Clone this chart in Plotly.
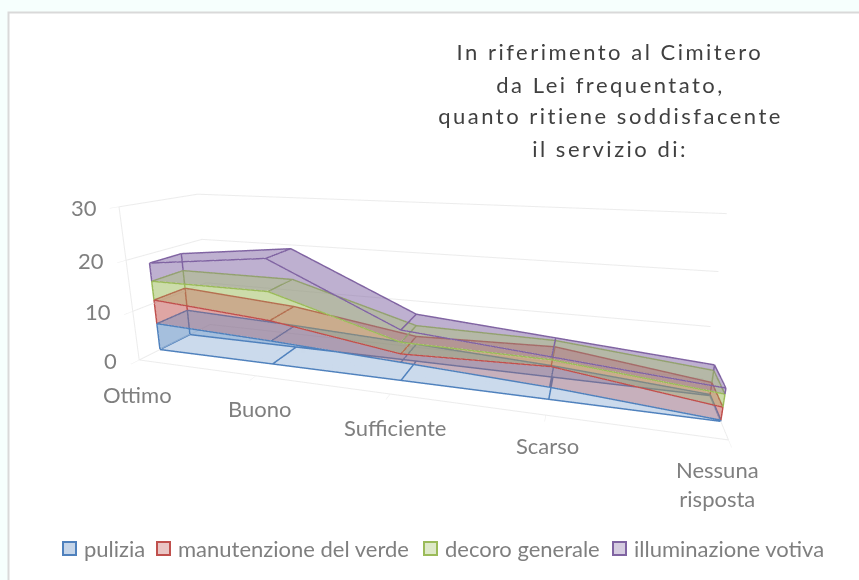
import plotly.graph_objects as go
import numpy as np

categories = ["Ottimo", "Buono", "Sufficiente", "Scarso", "Nessuna<br>risposta"]
series_names = ["pulizia", "manutenzione del verde", "decoro generale", "illuminazione votiva"]
pulizia = [5.6, 4.7, 3.5, 2.2, 0.2]
manutenzione = [5.0, 4.1, 1.6, 3.7, 2.2]
decoro = [3.9, 5.7, 2.2, 1.2, 2.2]
illuminazione = [3.7, 6.3, 2.3, 0.5, 1.0]
z_ticks = [0, 10, 20, 30]
title_lines = ["In riferimento al Cimitero", "da Lei frequentato,", "quanto ritiene soddisfacente", "il servizio di:"]
line_colors = ["#4f81bd", "#c0504d", "#9bbb59", "#8064a2"]
fill_colors = ["rgba(79,129,189,0.33)", "rgba(192,80,77,0.33)", "rgba(155,187,89,0.33)", "rgba(128,100,162,0.33)"]

values = [pulizia, manutenzione, decoro, illuminazione]
Y0, Y1 = 0.26, 0.68
label_xshift = [-2, 3, 5, 1, -11]
label_yshift = [-34, -32, -33, -30, -44]
fig = go.Figure()
xs = np.arange(len(categories), dtype=float)
base = np.zeros(len(xs))
for si, (vals, col, name) in enumerate(zip(values, line_colors, series_names)):
    top = base + np.array(vals)
    n = len(xs)
    X = np.concatenate([xs, xs, xs, xs])
    Y = np.concatenate([[Y0]*n, [Y1]*n, [Y0]*n, [Y1]*n])
    Z = np.concatenate([base, base, top, top])
    I, J, K = [], [], []
    def quad(a, b, c, d):
        I.extend([a, a]); J.extend([b, c]); K.extend([c, d])
    for s in range(n-1):
        fb, bb, ft, bt = s, n+s, 2*n+s, 3*n+s
        quad(fb, fb+1, ft+1, ft)
        quad(bb, bb+1, bt+1, bt)
        quad(ft, ft+1, bt+1, bt)
    quad(0, n, 3*n, 2*n)
    quad(n-1, 2*n-1, 4*n-1, 3*n-1)
    fig.add_trace(go.Mesh3d(x=X, y=Y, z=Z, i=I, j=J, k=K, color=col, opacity=0.3, name=name,
                            flatshading=True, hoverinfo="skip", showscale=False,
                            lighting=dict(ambient=1, diffuse=0, specular=0, fresnel=0)))
    lx, ly, lz = [], [], []
    for yy in (Y0, Y1):
        lx += list(xs)+[None]; ly += [yy]*n+[None]; lz += list(top)+[None]
        if si == 0:
            lx += list(xs)+[None]; ly += [yy]*n+[None]; lz += list(base)+[None]
    for s in range(n):
        lx += [xs[s], xs[s], None]; ly += [Y0, Y1, None]; lz += [top[s], top[s], None]
        if si == 0:
            lx += [xs[s], xs[s], None]; ly += [Y0, Y1, None]; lz += [base[s], base[s], None]
    for s in (0, n-1):
        for yy in (Y0, Y1):
            lx += [xs[s], xs[s], None]; ly += [yy, yy, None]; lz += [base[s], top[s], None]
    fig.add_trace(go.Scatter3d(x=lx, y=ly, z=lz, mode="lines", line=dict(color=col, width=3),
                               hoverinfo="skip", showlegend=False))
    base = top

label_color = "#7f7f7f"
scene_ann = []
for cx, lab, dx, dy in zip(xs, categories, label_xshift, label_yshift):
    scene_ann.append(dict(x=cx, y=0, z=0, text=lab, showarrow=False, xanchor="center", yanchor="middle",
                          xshift=dx, yshift=dy,
                          font=dict(family="Lato", size=22, color=label_color)))
for v in z_ticks:
    scene_ann.append(dict(x=0, y=0, z=v, text=str(v), showarrow=False, xanchor="right", yanchor="middle",
                          xshift=-20, font=dict(family="Lato", size=22, color=label_color)))

fig.update_layout(
    width=859, height=580, margin=dict(l=0, r=0, t=0, b=0), autosize=False,
    paper_bgcolor="#f6fffd", showlegend=False,
    xaxis=dict(visible=False), yaxis=dict(visible=False),
    scene=dict(
        domain=dict(x=[0.0, 0.955], y=[0.075, 0.915]),
        bgcolor="rgba(0,0,0,0)",
        aspectmode="manual", aspectratio=dict(x=3.65, y=0.8, z=1.05),
        camera=dict(eye=dict(x=1.07, y=-3.45, z=1.0), center=dict(x=0, y=0, z=0), up=dict(x=0, y=0, z=1),
                    projection=dict(type="perspective")),
        annotations=scene_ann,
        xaxis=dict(title="", tickvals=list(xs), ticktext=[""]*len(xs), range=[xs[0], xs[-1]],
                   showgrid=False, zeroline=False, showline=True, linecolor="#ececec", linewidth=2, ticks="outside",
                   tickcolor="#ececec", showbackground=False, showticklabels=False, showspikes=False),
        yaxis=dict(title="", range=[0, 1], showticklabels=False, showgrid=False, zeroline=False,
                   showline=True, linecolor="#ececec", linewidth=2, ticks="", showbackground=False, showspikes=False),
        zaxis=dict(title="", tickvals=z_ticks, range=[0, 30], gridcolor="#ececec", gridwidth=2,
                   showline=True, linecolor="#ececec", linewidth=2, zeroline=False, ticks="outside", tickcolor="#ececec",
                   showbackground=False, showticklabels=False, showspikes=False),
    ),
    shapes=[dict(type="rect", xref="paper", yref="paper", x0=8.5/859, x1=1.05, y0=-0.05, y1=1-12.5/580,
                 line=dict(color="#d9d9d9", width=2), fillcolor="#ffffff", layer="below")],
)
for idx, line in enumerate(title_lines):
    fig.add_annotation(text=line, xref="paper", yref="paper", x=610/859, y=1-(52+idx*32)/580,
                       xanchor="center", yanchor="middle", showarrow=False,
                       font=dict(family="Lato", size=22, color="#404040"))

legend_x = [63, 157, 424, 613]
legend_y = 548
for x0, name, lc, fc in zip(legend_x, series_names, line_colors, fill_colors):
    fig.add_shape(type="rect", xref="paper", yref="paper", x0=x0/859, x1=(x0+13)/859,
                  y0=1-(legend_y+7)/580, y1=1-(legend_y-6)/580, line=dict(color=lc, width=2), fillcolor=fc)
    fig.add_annotation(text=name, xref="paper", yref="paper", x=(x0+19)/859, y=1-legend_y/580,
                       xanchor="left", yanchor="middle", showarrow=False,
                       font=dict(family="Lato", size=22, color=label_color))

post = """
document.body.style.margin='0';document.body.style.overflow='hidden';
var titles=%s;
function spaceTitle(){document.querySelectorAll('.annotation-text').forEach(function(t){
  if(titles.indexOf(t.textContent)>=0){t.style.letterSpacing='2.5px';}});}
spaceTitle();setTimeout(spaceTitle,300);
""" % (str(title_lines))
fig.write_html("out.html", post_script=post, config=dict(displayModeBar=False))
